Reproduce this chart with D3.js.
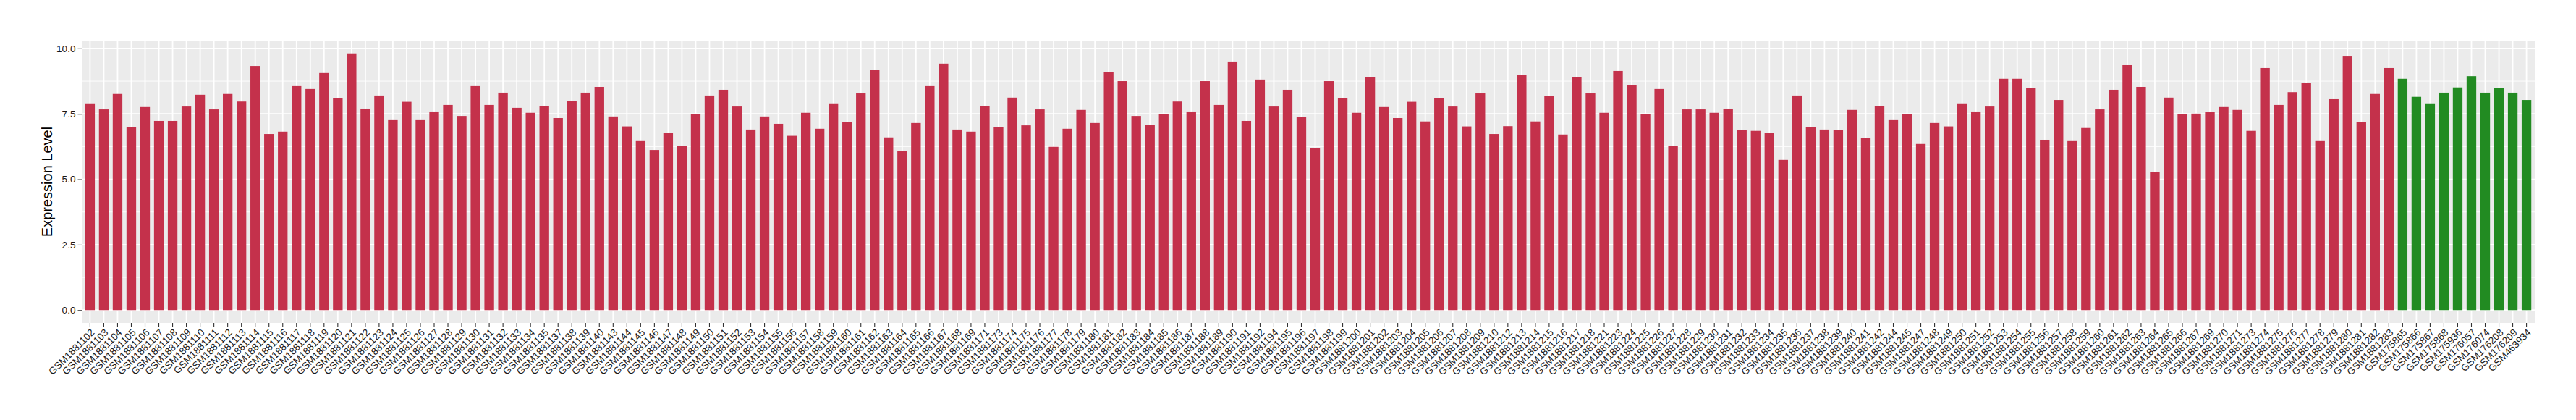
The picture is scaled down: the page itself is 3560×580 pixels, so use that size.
<!DOCTYPE html>
<html>
<head>
<meta charset="utf-8">
<script src="https://cdn.jsdelivr.net/npm/d3@7/dist/d3.min.js"></script>
<style>
  body { margin: 0; background: #fff; }
  text { font-family: "Liberation Sans", Arial, sans-serif; }
</style>
</head>
<body>
<svg></svg>
<script>
// tumour samples (red)
const tumorIds = ["GSM1881102","GSM1881103","GSM1881104","GSM1881105","GSM1881106","GSM1881107","GSM1881108","GSM1881109","GSM1881110","GSM1881111",
  "GSM1881112","GSM1881113","GSM1881114","GSM1881115","GSM1881116","GSM1881117","GSM1881118","GSM1881119","GSM1881120","GSM1881121",
  "GSM1881122","GSM1881123","GSM1881124","GSM1881125","GSM1881126","GSM1881127","GSM1881128","GSM1881129","GSM1881130","GSM1881131",
  "GSM1881132","GSM1881133","GSM1881134","GSM1881135","GSM1881137","GSM1881138","GSM1881139","GSM1881140","GSM1881143","GSM1881144",
  "GSM1881145","GSM1881146","GSM1881147","GSM1881148","GSM1881149","GSM1881150","GSM1881151","GSM1881152","GSM1881153","GSM1881154",
  "GSM1881155","GSM1881156","GSM1881157","GSM1881158","GSM1881159","GSM1881160","GSM1881161","GSM1881162","GSM1881163","GSM1881164",
  "GSM1881165","GSM1881166","GSM1881167","GSM1881168","GSM1881169","GSM1881171","GSM1881173","GSM1881174","GSM1881175","GSM1881176",
  "GSM1881177","GSM1881178","GSM1881179","GSM1881180","GSM1881181","GSM1881182","GSM1881183","GSM1881184","GSM1881185","GSM1881186",
  "GSM1881187","GSM1881188","GSM1881189","GSM1881190","GSM1881191","GSM1881192","GSM1881194","GSM1881195","GSM1881196","GSM1881197",
  "GSM1881198","GSM1881199","GSM1881200","GSM1881201","GSM1881202","GSM1881203","GSM1881204","GSM1881205","GSM1881206","GSM1881207",
  "GSM1881208","GSM1881209","GSM1881210","GSM1881212","GSM1881213","GSM1881214","GSM1881215","GSM1881216","GSM1881217","GSM1881218",
  "GSM1881221","GSM1881223","GSM1881224","GSM1881225","GSM1881226","GSM1881227","GSM1881228","GSM1881229","GSM1881230","GSM1881231",
  "GSM1881232","GSM1881233","GSM1881234","GSM1881235","GSM1881236","GSM1881237","GSM1881238","GSM1881239","GSM1881240","GSM1881241",
  "GSM1881242","GSM1881244","GSM1881245","GSM1881247","GSM1881248","GSM1881249","GSM1881250","GSM1881251","GSM1881252","GSM1881253",
  "GSM1881254","GSM1881255","GSM1881256","GSM1881257","GSM1881258","GSM1881259","GSM1881260","GSM1881261","GSM1881262","GSM1881263",
  "GSM1881264","GSM1881265","GSM1881266","GSM1881267","GSM1881269","GSM1881270","GSM1881271","GSM1881273","GSM1881274","GSM1881275",
  "GSM1881276","GSM1881277","GSM1881278","GSM1881279","GSM1881280","GSM1881281","GSM1881282","GSM1881283"];
const tumorValues = [7.90,7.67,8.26,6.99,7.76,7.23,7.23,7.78,8.23,7.67,
  8.26,7.97,9.33,6.73,6.82,8.56,8.45,9.06,8.09,9.81,
  7.70,8.20,7.26,7.96,7.26,7.59,7.84,7.42,8.56,7.84,
  8.31,7.73,7.54,7.81,7.34,8.00,8.31,8.53,7.40,7.02,
  6.46,6.12,6.76,6.27,7.48,8.20,8.42,7.78,6.90,7.40,
  7.12,6.66,7.54,6.93,7.90,7.18,8.28,9.17,6.60,6.08,
  7.15,8.56,9.42,6.90,6.82,7.81,6.99,8.12,7.06,7.67,
  6.24,6.93,7.65,7.15,9.11,8.75,7.42,7.09,7.48,7.97,
  7.59,8.75,7.84,9.50,7.23,8.81,7.78,8.42,7.37,6.18,
  8.75,8.09,7.54,8.89,7.76,7.34,7.96,7.21,8.09,7.78,
  7.02,8.28,6.73,7.03,9.00,7.21,8.17,6.71,8.89,8.28,
  7.54,9.14,8.61,7.48,8.45,6.27,7.67,7.67,7.54,7.70,
  6.87,6.85,6.76,5.74,8.20,6.99,6.90,6.87,7.65,6.57,
  7.81,7.26,7.48,6.35,7.15,7.02,7.90,7.59,7.78,8.84,
  8.84,8.48,6.51,8.03,6.46,6.96,7.67,8.42,9.36,8.53,
  5.27,8.12,7.48,7.51,7.57,7.76,7.65,6.85,9.25,7.84,
  8.33,8.67,6.46,8.06,9.69,7.18,8.26,9.25];

// normal samples (green)
const normalIds = ["GSM175865","GSM175866","GSM175867","GSM175868","GSM175936","GSM176057","GSM176074","GSM176208","GSM176209","GSM463934"];
const normalValues = [8.84,8.15,7.90,8.31,8.51,8.94,8.31,8.48,8.31,8.03];

const yTicks = [0, 2.5, 5, 7.5, 10];
const yTitle = "Expression Level";

const width = 3560;
const height = 580;
const panel = {left: 113, right: 3503, top: 56, bottom: 446};

let data = tumorIds.map((id, i) => ({id: id, value: tumorValues[i], group: "tumor"}))
  .concat(normalIds.map((id, i) => ({id: id, value: normalValues[i], group: "normal"})));

let color = {tumor: "#C4314B", normal: "#228B22"};

let svg = d3.select("svg").attr("width", width).attr("height", height);

let yMax = d3.max(data, d => d.value);
let yScale = d3.scaleLinear().domain([-0.05 * yMax, 1.05 * yMax]).range([panel.bottom, panel.top]);
let xScale = d3.scaleBand().domain(data.map(d => d.id))
  .range([panel.left, panel.right]).paddingInner(0.3).paddingOuter(0.25);

// panel background
svg.append("rect")
  .attr("x", panel.left).attr("y", panel.top)
  .attr("width", panel.right - panel.left).attr("height", panel.bottom - panel.top)
  .attr("fill", "#EBEBEB");

// minor grid
let minor = d3.range(1.25, 10, 2.5);
svg.append("g").selectAll("line").data(minor).join("line")
  .attr("x1", panel.left).attr("x2", panel.right)
  .attr("y1", d => yScale(d)).attr("y2", d => yScale(d))
  .attr("stroke", "#fff").attr("stroke-width", 0.9);

// major grid
svg.append("g").selectAll("line").data(yTicks).join("line")
  .attr("x1", panel.left).attr("x2", panel.right)
  .attr("y1", d => yScale(d)).attr("y2", d => yScale(d))
  .attr("stroke", "#fff").attr("stroke-width", 1.8);
svg.append("g").selectAll("line").data(data).join("line")
  .attr("x1", d => xScale(d.id) + xScale.bandwidth() / 2)
  .attr("x2", d => xScale(d.id) + xScale.bandwidth() / 2)
  .attr("y1", panel.top).attr("y2", panel.bottom)
  .attr("stroke", "#fff").attr("stroke-width", 1.8);

// bars
svg.append("g").selectAll("rect").data(data).join("rect")
  .attr("x", d => xScale(d.id))
  .attr("width", xScale.bandwidth())
  .attr("y", d => yScale(d.value))
  .attr("height", d => yScale(0) - yScale(d.value))
  .attr("fill", d => color[d.group]);

// axes
let yAxis = d3.axisLeft(yScale).tickValues(yTicks).tickFormat(d3.format(".1f")).tickSize(5.5).tickPadding(3);
let gy = svg.append("g").attr("transform", `translate(${panel.left},0)`).call(yAxis);
gy.select(".domain").remove();
gy.selectAll("line").attr("stroke", "#333").attr("stroke-width", 1.1);
gy.selectAll("text").attr("font-size", "13.6px").attr("fill", "#1A1A1A")
  .attr("font-family", "'Liberation Sans', Arial, sans-serif");

let xAxis = d3.axisBottom(xScale).tickSize(5.5).tickPadding(3);
let gx = svg.append("g").attr("transform", `translate(0,${panel.bottom})`).call(xAxis);
gx.select(".domain").remove();
gx.selectAll("line").attr("stroke", "#333").attr("stroke-width", 1.1);
gx.selectAll("text")
  .attr("font-size", "13.6px").attr("fill", "#1A1A1A")
  .attr("font-family", "'Liberation Sans', Arial, sans-serif")
  .attr("text-anchor", "end")
  .attr("dy", null)
  .attr("y", 0)
  .attr("transform", "translate(7,14) rotate(-45)");

// axis title
svg.append("text")
  .attr("transform", `translate(72,${(panel.top + panel.bottom) / 2}) rotate(-90)`)
  .attr("text-anchor", "middle")
  .attr("font-size", "20px")
  .attr("fill", "#000")
  .text(yTitle);
</script>
</body>
</html>
